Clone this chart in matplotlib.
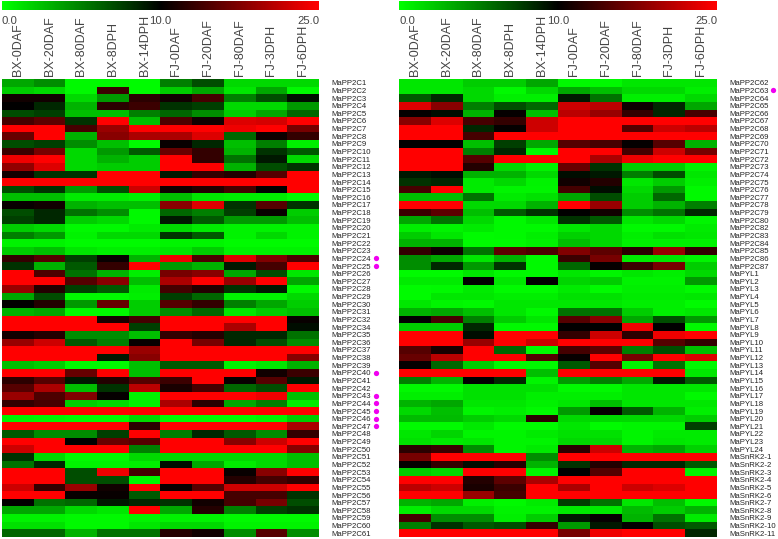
import matplotlib
matplotlib.use('Agg')
import matplotlib.pyplot as plt
from matplotlib.colors import LinearSegmentedColormap, TwoSlopeNorm
import numpy as np

plt.rcParams['font.family'] = ['Liberation Sans', 'DejaVu Sans']

amostras = ['BX-0DAF', 'BX-20DAF', 'BX-80DAF', 'BX-8DPH', 'BX-14DPH',
            'FJ-0DAF', 'FJ-20DAF', 'FJ-80DAF', 'FJ-3DPH', 'FJ-6DPH']

genes_esq = ['MaPP2C%d' % i for i in list(range(1, 33)) + list(range(34, 62))]
genes_dir = (['MaPP2C%d' % i for i in list(range(62, 81)) + list(range(82, 88))]
             + ['MaPYL%d' % i for i in range(1, 25)]
             + ['MaSnRK2-%d' % i for i in range(1, 12)])

marcados_esq = ['MaPP2C24', 'MaPP2C25', 'MaPP2C40', 'MaPP2C43', 'MaPP2C44',
                'MaPP2C45', 'MaPP2C46', 'MaPP2C47']
marcados_dir = ['MaPP2C63']

# valores (escala 0 - 25)
dados_esq = [
    [3.5, 4.5, 0.3, 0.3, 0.2, 5, 7, 1.5, 1.5, 1.5],
    [2, 1.5, 0.3, 13.5, 0.2, 2, 3.5, 1, 3.5, 0.3],
    [11, 11, 1.5, 4, 12.5, 11, 14, 5, 7, 9.5],
    [10, 8.5, 3, 12.5, 13.5, 8, 7.5, 1.5, 1.5, 4],
    [7, 7.5, 2.5, 2.5, 5, 6, 4.5, 2, 3.5, 6],
    [14, 15.5, 8, 25, 2.5, 14.5, 11, 23, 22.5, 25],
    [25, 25, 14, 19, 25, 25, 25, 24, 25, 17],
    [16, 25, 3, 18, 20, 20, 23, 6, 10.8, 13],
    [7, 7.5, 4.5, 2.5, 0.2, 10.5, 8.5, 2.5, 5, 0.7],
    [13.5, 17, 1.5, 4, 6.5, 16, 13, 3, 8, 6.5],
    [24, 25, 1.5, 3, 2, 25, 13, 5.5, 9, 1.5],
    [18.5, 23, 1.5, 2, 2, 25, 25, 3, 7, 8],
    [11, 8, 8, 25, 25, 9, 13, 12, 15, 25],
    [25, 25, 25, 25, 25, 25, 25, 25, 25, 25],
    [7, 8, 4, 7, 22, 11, 12, 14, 10, 25],
    [2.5, 2.5, 0.8, 0.8, 0.5, 2.5, 1, 0.8, 0.8, 0.2],
    [10.5, 11, 3, 2.5, 2.5, 18, 23, 8, 15, 8],
    [7, 8.5, 5.5, 4.5, 0.3, 6, 5, 7.5, 10.5, 2],
    [7.5, 8.5, 2, 1.5, 0.3, 9, 6.5, 4, 4, 2.5],
    [2, 1.5, 0.3, 0.3, 0.8, 1.5, 0.8, 0.5, 0.5, 0.5],
    [5, 4, 0.5, 1.5, 1.5, 8, 6.5, 0.5, 1.5, 0.5],
    [0.5, 0.5, 0.2, 0.2, 0.2, 0.4, 0.4, 0.2, 0.2, 0.2],
    [2, 2.5, 1, 0.7, 0.7, 1, 2, 0.5, 0.5, 0.5],
    [13, 15, 7.5, 10.5, 3, 24, 14.5, 23, 17.5, 14.5],
    [8, 3, 6.5, 13, 25, 4, 3, 9, 14, 25],
    [25, 14.5, 5.5, 3, 0.7, 17, 18, 3.5, 7, 1],
    [25, 25, 15, 18, 2.5, 20, 25, 19, 25, 3.5],
    [19, 12, 7.5, 6.5, 0.8, 14, 12, 8, 9, 0.3],
    [3.5, 7, 0.3, 0.3, 0.7, 7.5, 6, 0.5, 0.5, 1.5],
    [10, 12, 4, 16, 2, 15, 13, 5, 3.5, 2],
    [3, 3.5, 0.3, 0.3, 2, 4.5, 6, 1, 2, 2.5],
    [25, 25, 25, 11.5, 14, 25, 25, 25, 25, 10.5],
    [25, 25, 25, 25, 7.5, 25, 25, 20, 25, 9.5],
    [11, 12, 4.5, 4.5, 2.5, 13, 12, 8.5, 8.5, 5.5],
    [19, 22, 6.5, 5, 10.5, 25, 17, 8.5, 7, 4.5],
    [25, 25, 25, 25, 19, 25, 25, 25, 25, 25],
    [25, 25, 25, 9, 18, 25, 25, 25, 25, 18],
    [2.5, 2, 0.3, 0.3, 2.5, 6.5, 6.5, 0.5, 1, 3],
    [25, 25, 16, 25, 2.5, 25, 25, 25, 11, 13.5],
    [12.5, 15, 9, 12, 15, 13.5, 25, 10.5, 15, 9],
    [15, 20, 2.5, 8, 21, 11.5, 14, 6, 7, 25],
    [19, 14.5, 17.5, 10.3, 0.5, 25, 25, 25, 24, 2.5],
    [13, 14, 2, 1.5, 0.5, 20, 12.5, 3.5, 5, 0.8],
    [25, 25, 25, 25, 25, 25, 25, 25, 25, 25],
    [0.5, 0.4, 0.3, 0.3, 1.5, 0.3, 0.3, 0.3, 0.5, 2],
    [25, 25, 25, 25, 12.5, 25, 25, 25, 25, 20],
    [6.5, 4.5, 4.5, 7.5, 25, 5, 8.5, 6.5, 4.5, 13],
    [25, 25, 10, 16, 15, 25, 25, 18, 22, 25],
    [22, 25, 25, 25, 5, 25, 25, 25, 25, 18],
    [8, 1.5, 0.3, 0.3, 1.5, 1.5, 1.5, 1.5, 1.5, 2.5],
    [5.5, 8.5, 0.5, 0.5, 0.7, 9.5, 3.5, 0.8, 1.5, 2.5],
    [25, 25, 7, 24, 14, 25, 25, 10.5, 18, 25],
    [25, 25, 7, 7, 0.3, 25, 25, 12, 14, 13],
    [22, 13, 19, 11, 25, 10.5, 15, 22, 22, 25],
    [25, 25, 10.5, 10.5, 6.5, 25, 25, 14, 14, 8],
    [10, 5.5, 6, 9, 8.5, 8, 11, 14, 17, 7],
    [3.5, 3.5, 1.5, 1, 25, 3.5, 12, 5, 7.5, 8],
    [0.5, 0.5, 0.3, 0.3, 0.5, 0.5, 0.5, 0.3, 0.3, 0.3],
    [1.2, 1.2, 0.3, 0.3, 1, 1.5, 1.5, 0.5, 0.5, 0.5],
    [6, 6, 3, 5.5, 5.5, 12, 11, 4.5, 15, 4.5],
]

dados_dir = [
    [1, 1, 2, 2, 3.5, 0.3, 0.3, 1, 1, 1],
    [1, 1, 1.5, 0.3, 1.5, 3.5, 2.5, 1.5, 1.5, 0.7],
    [6.5, 8.5, 1.5, 0.7, 0.7, 9, 5.5, 0.7, 0.7, 1.5],
    [23, 18, 5, 7, 6, 22, 21, 10.8, 8.5, 3.5],
    [10.3, 9.5, 3, 10.3, 2.5, 21, 19, 13, 8.5, 14],
    [18, 23, 14, 13, 22, 25, 25, 25, 25, 25],
    [25, 25, 8.5, 10.3, 22, 25, 25, 15, 22, 21],
    [25, 25, 14, 25, 25, 25, 25, 25, 25, 25],
    [10, 10, 2.5, 7.5, 3.5, 15, 14, 10.3, 15, 3],
    [25, 25, 5, 8.5, 0.3, 25, 25, 14, 22, 17],
    [25, 25, 15, 25, 25, 25, 20, 24, 25, 25],
    [25, 25, 12, 1.5, 0.5, 16, 8, 2, 2, 0.5],
    [9, 9.5, 3, 3, 1.5, 9.5, 9, 5, 7, 1],
    [8, 8.5, 0.8, 1.5, 0.5, 11, 12, 1, 2, 0.7],
    [14, 25, 0.8, 0.4, 0.4, 14, 9.5, 1.5, 4, 0.3],
    [2.5, 2.5, 5.5, 0.8, 1.2, 3.5, 7, 2, 6, 0.3],
    [25, 25, 1.5, 1.5, 3, 25, 19, 2, 3, 5],
    [13.5, 15.5, 2.5, 6.5, 8, 10, 11, 4.5, 5.5, 8.5],
    [3.5, 5.5, 1.5, 0.3, 1, 8, 6.5, 1, 1.5, 0.4],
    [0.7, 0.5, 0.8, 0.3, 0.3, 1, 1.5, 0.3, 0.3, 0.8],
    [2, 1, 0.2, 0.3, 0.7, 1.8, 1.5, 0.7, 1.2, 1],
    [3, 3, 0.2, 0.2, 0.5, 2.5, 1.5, 0.5, 0.5, 0.5],
    [13, 10.8, 5.5, 15.5, 14.5, 17.5, 15.5, 12.5, 19, 13],
    [4.5, 3.5, 1, 3, 0.3, 13.5, 17, 0.8, 1, 0.4],
    [4.5, 8.5, 4, 8, 0.3, 6, 10.3, 13.5, 17, 2],
    [0.2, 0.2, 1, 0.3, 0.3, 1, 0.4, 1, 0.7, 1.5],
    [0.8, 0.8, 10, 1, 10, 1.7, 2, 0.5, 0.5, 4],
    [0.2, 0.3, 0.8, 0.2, 0.2, 0.8, 0.2, 0.7, 0.7, 0.3],
    [0.2, 1, 1, 0.7, 0.7, 1.2, 1.2, 0.8, 0.8, 1],
    [1, 0.4, 0.3, 1, 1, 1, 1, 0.7, 0.7, 0.2],
    [3, 3.5, 2.5, 1, 0.3, 5.5, 5.5, 2, 0.7, 1],
    [10, 14, 5, 2, 1, 15, 18, 3.5, 7, 4],
    [2, 2, 8.5, 0.3, 0.3, 10, 10, 24, 10, 0.3],
    [25, 25, 9.5, 25, 25, 13, 22, 12.5, 24, 25],
    [25, 25, 19, 25, 22, 25, 25, 25, 15, 13],
    [15, 11.5, 25, 6, 0.2, 14, 15.5, 5, 7, 2.5],
    [16, 21, 25, 25, 15, 10.5, 25, 17, 25, 23],
    [10.3, 6, 2, 0.3, 0.3, 6.5, 15, 0.5, 5.5, 0.3],
    [25, 25, 25, 25, 2.5, 25, 25, 25, 25, 1],
    [5, 3, 10, 8.5, 0.4, 4, 5, 3.5, 9, 6.5],
    [0.3, 0.3, 1.2, 1.2, 1.2, 0.3, 0.3, 1, 1, 1],
    [0.7, 0.7, 1.2, 1.2, 0.7, 0.7, 0.7, 1, 1, 0.3],
    [3, 3.5, 1, 1, 0.6, 1, 2.5, 1, 1, 1],
    [1.5, 2.5, 0.4, 0.7, 0.3, 4, 10.3, 6.5, 3, 0.7],
    [2.7, 2.7, 2, 1.5, 12.5, 1.5, 1.5, 1.5, 1.5, 2],
    [0.2, 0.2, 0.9, 0.2, 0.2, 1, 0.2, 0.4, 0.4, 7.5],
    [1, 1.7, 0.4, 0.4, 0.8, 1.2, 1.2, 0.4, 0.8, 0.8],
    [1.2, 0.8, 1, 0.4, 0.4, 1.5, 1.5, 0.4, 1, 0.8],
    [12.5, 13.5, 4.5, 0.4, 0.8, 12.5, 22, 3, 3.5, 1.8],
    [17, 25, 25, 25, 4.5, 25, 25, 25, 25, 25],
    [10.3, 13, 9.5, 12, 3, 8, 12, 8.5, 8.5, 6.5],
    [2, 1.5, 25, 25, 0.4, 10, 15, 25, 25, 0.5],
    [25, 25, 12, 15.5, 20, 25, 25, 25, 25, 25],
    [21, 22, 11.5, 13.5, 25, 20, 25, 22, 23, 25],
    [25, 25, 19, 14, 25, 25, 25, 25, 25, 25],
    [3, 3.5, 0.7, 0.3, 0.8, 7.5, 5.5, 1, 2.5, 0.3],
    [0.7, 1.5, 1.5, 0.5, 0.5, 0.8, 0.8, 2.7, 2, 3],
    [14, 4.5, 4.5, 0.7, 2, 9, 10.3, 3, 5.5, 0.8],
    [5, 8, 6.5, 7, 13, 4, 9, 10, 7, 6.5],
    [25, 25, 25, 25, 25, 17, 24, 25, 25, 8.5],
]

W, H = 778, 539
cmapa = LinearSegmentedColormap.from_list('gbr', ['#00ff00', '#000000', '#ff0000'], N=256)
norma = TwoSlopeNorm(vmin=0, vcenter=10, vmax=25)
cor_texto = '#444444'

fig = plt.figure(figsize=(W / 100, H / 100), dpi=100, facecolor='white')


def caixa(x0, y0, x1, y1):
    # caixa em pixels da imagem (origem no topo)
    return [x0 / W, 1 - y1 / H, (x1 - x0) / W, (y1 - y0) / H]


def painel(x0, x1, dados, genes, marcados, x_ponto):
    ax = fig.add_axes(caixa(x0, 79, x1, 537))
    im = ax.imshow(np.array(dados), cmap=cmapa, norm=norma, aspect='auto', interpolation='nearest')
    ax.set_xticks(range(len(amostras)))
    ax.set_xticklabels(amostras, rotation=90, fontsize=9, color=cor_texto,
                       family=['Liberation Sans Narrow', 'Liberation Sans'])
    ax.xaxis.tick_top()
    ax.set_yticks(range(len(genes)))
    ax.set_yticklabels(genes, fontsize=5.6, color='#222222')
    ax.yaxis.tick_right()
    ax.tick_params(axis='x', length=0, pad=2)
    ax.tick_params(axis='y', length=0, pad=8.8)
    for s in ax.spines.values():
        s.set_visible(False)

    larg = (x1 - x0) / len(amostras)
    for g in marcados:
        ax.plot((x_ponto - x0) / larg - 0.5, genes.index(g), 'o', color='#f000f0',
                ms=3.8, mew=0, clip_on=False, scalex=False, scaley=False)

    cax = fig.add_axes(caixa(x0, 1, x1, 10))
    cb = fig.colorbar(im, cax=cax, orientation='horizontal', ticks=[0, 10, 25])
    cb.outline.set_visible(False)
    cb.ax.set_xticklabels(['0.0', '10.0', '25.0'], fontsize=8.2, color=cor_texto)
    cb.ax.tick_params(length=0, pad=4)
    rotulos = cb.ax.get_xticklabels()
    rotulos[0].set_ha('left')
    rotulos[2].set_ha('right')


painel(2, 319, dados_esq, genes_esq, marcados_esq, 376)
painel(399, 717, dados_dir, genes_dir, marcados_dir, 773)

plt.savefig('out.png', dpi=100, facecolor='white')
